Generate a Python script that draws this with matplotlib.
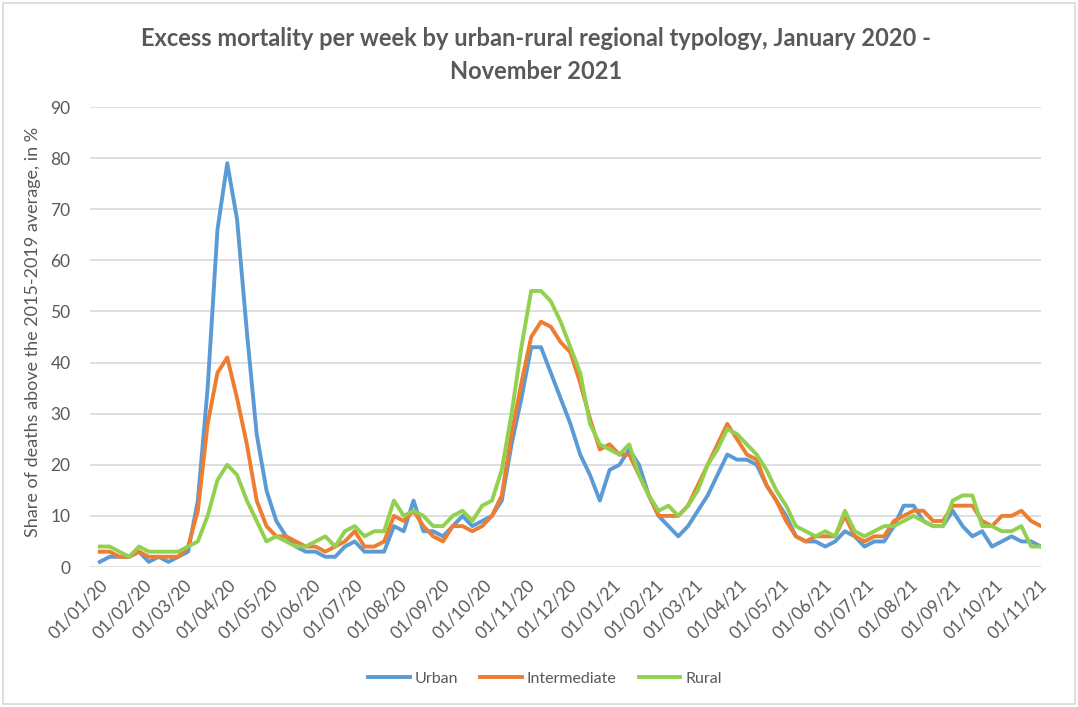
import matplotlib
matplotlib.use("Agg")
import matplotlib.pyplot as plt
import matplotlib.dates as mdates
import numpy as np
import datetime as dt
from matplotlib.patches import Rectangle

plt.rcParams['font.family'] = ['Lato', 'DejaVu Sans']

start_date = dt.date(2020, 1, 1)
n_weeks = 97
dates = [start_date + dt.timedelta(days=7 * i) for i in range(n_weeks)]

urban = [1, 2, 2, 2, 3, 1, 2, 1, 2, 3,
         13, 35, 66, 79, 68, 46, 26, 15, 9, 6,
         4, 3, 3, 2, 2, 4, 5, 3, 3, 3,
         8, 7, 13, 7, 7, 6, 8, 10, 8, 9,
         10, 13, 24, 33, 43, 43, 38, 33, 28, 22,
         18, 13, 19, 20, 23, 20, 14, 10, 8, 6,
         8, 11, 14, 18, 22, 21, 21, 20, 16, 13,
         10, 6, 5, 5, 4, 5, 7, 6, 4, 5,
         5, 8, 12, 12, 9, 8, 8, 11, 8, 6,
         7, 4, 5, 6, 5, 5, 4]
intermediate = [3, 3, 2, 2, 3, 2, 2, 2, 2, 4,
                11, 28, 38, 41, 33, 24, 13, 8, 6, 6,
                5, 4, 4, 3, 4, 5, 7, 4, 4, 5,
                10, 9, 11, 8, 6, 5, 8, 8, 7, 8,
                10, 14, 26, 36, 45, 48, 47, 44, 42, 36,
                29, 23, 24, 22, 22, 18, 14, 10, 10, 10,
                12, 16, 20, 24, 28, 25, 22, 21, 16, 13,
                9, 6, 5, 6, 6, 6, 10, 6, 5, 6,
                6, 9, 10, 11, 11, 9, 9, 12, 12, 12,
                9, 8, 10, 10, 11, 9, 8]
rural = [4, 4, 3, 2, 4, 3, 3, 3, 3, 4,
         5, 10, 17, 20, 18, 13, 9, 5, 6, 5,
         4, 4, 5, 6, 4, 7, 8, 6, 7, 7,
         13, 10, 11, 10, 8, 8, 10, 11, 9, 12,
         13, 19, 30, 43, 54, 54, 52, 48, 43, 38,
         28, 24, 23, 22, 24, 18, 14, 11, 12, 10,
         12, 15, 20, 23, 27, 26, 24, 22, 19, 15,
         12, 8, 7, 6, 7, 6, 11, 7, 6, 7,
         8, 8, 9, 10, 9, 8, 8, 13, 14, 14,
         8, 8, 7, 7, 8, 4, 4]

series_names = ["Urban", "Intermediate", "Rural"]
series_colors = ["#5B9BD5", "#ED7D31", "#92D050"]
title = "Excess mortality per week by urban-rural regional typology, January 2020 -\nNovember 2021"
ylabel = "Share of deaths above the 2015-2019 average, in %"

W, H = 1078, 707
fig = plt.figure(figsize=(W / 100, H / 100), dpi=100)
ax = fig.add_axes([90 / W, 1 - 567 / H, (1041 - 90) / W, (567 - 107) / H])

for vals, name, col in zip([urban, intermediate, rural], series_names, series_colors):
    ax.plot(dates, vals, color=col, lw=2.8, label=name, solid_joinstyle='round')

ax.set_ylim(0, 90)
ax.set_yticks(np.arange(0, 91, 10))
ax.set_xlim(dt.date(2019, 12, 25), dates[-1])
ax.xaxis.set_major_locator(mdates.MonthLocator(bymonthday=1))
ax.xaxis.set_major_formatter(mdates.DateFormatter('%d/%m/%y'))
for lbl in ax.get_xticklabels():
    lbl.set_rotation(45)
    lbl.set_ha('right')
    lbl.set_rotation_mode('anchor')

ax.grid(axis='y', color='#D9D9D9', lw=1.2)
ax.set_axisbelow(True)
for s in ax.spines.values():
    s.set_visible(False)
ax.tick_params(axis='both', length=0, colors='#595959', labelsize=12.5)
ax.tick_params(axis='y', pad=14)
ax.tick_params(axis='x', pad=7)

ax.set_ylabel(ylabel, color='#595959', fontsize=13, labelpad=4)
ax.yaxis.set_label_coords(-0.052, 0.51)
fig.text(536 / W, 1 - 55 / H, title, ha='center', va='center', fontsize=17,
         fontweight='bold', color='#595959', linespacing=1.5)

leg = fig.legend(loc='center', bbox_to_anchor=(545 / W, 1 - 679 / H), ncol=3,
                 frameon=False, fontsize=11.5, handlelength=2.6, columnspacing=1.4,
                 handletextpad=0.3)
for t in leg.get_texts():
    t.set_color('#595959')

fig.patches.append(Rectangle((0.003, 0.004), 0.994, 0.992, transform=fig.transFigure,
                             fill=False, edgecolor='#D9D9D9', lw=1.2))

fig.savefig("out.png", dpi=100)
